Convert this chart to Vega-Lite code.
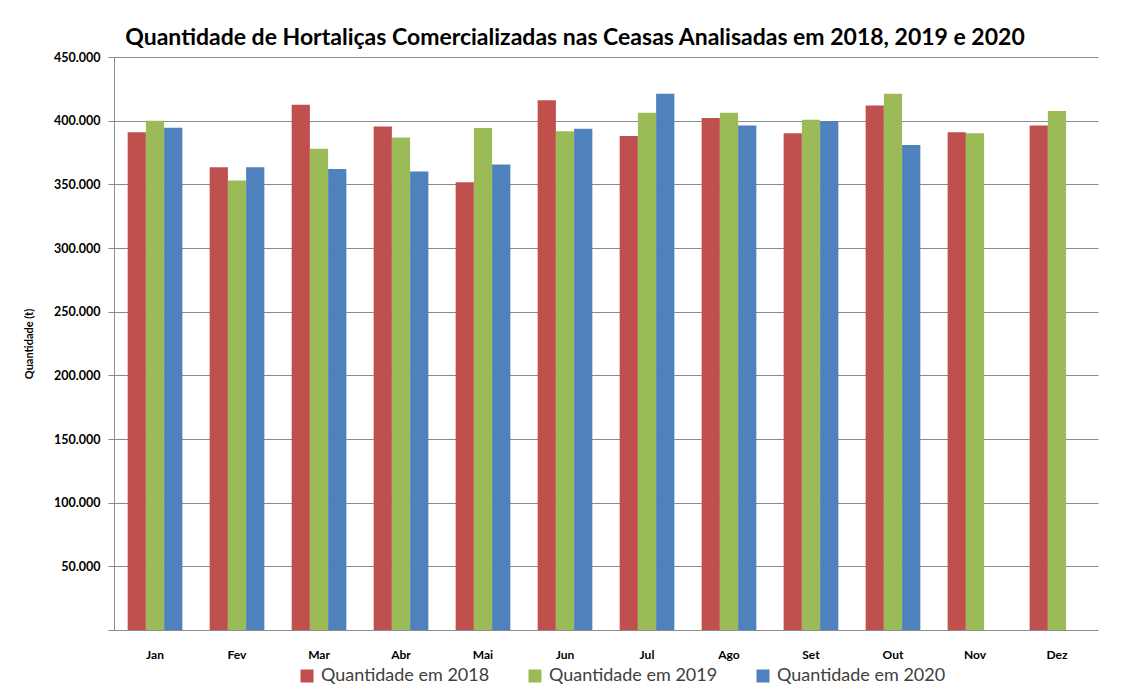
{
  "$schema": "https://vega.github.io/schema/vega-lite/v6.json",
  "width": 984,
  "height": 573,
  "autosize": {"type": "none"},
  "padding": {"left": 114, "top": 57, "right": 31, "bottom": 62},
  "background": "white",
  "title": {
    "text": "Quantidade de Hortaliças Comercializadas nas Ceasas Analisadas em 2018, 2019 e 2020",
    "font": "Lato",
    "fontSize": 23,
    "fontWeight": "bold",
    "color": "#000000",
    "anchor": "middle",
    "frame": "group",
    "dx": -31,
    "dy": 21,
    "baseline": "alphabetic",
    "offset": 4
  },
  "data": {
    "values": [
      {"mes": "Jan", "serie": "Quantidade em 2018", "valor": 391000},
      {"mes": "Jan", "serie": "Quantidade em 2019", "valor": 400000},
      {"mes": "Jan", "serie": "Quantidade em 2020", "valor": 394500},
      {"mes": "Fev", "serie": "Quantidade em 2018", "valor": 363500},
      {"mes": "Fev", "serie": "Quantidade em 2019", "valor": 353000},
      {"mes": "Fev", "serie": "Quantidade em 2020", "valor": 363500},
      {"mes": "Mar", "serie": "Quantidade em 2018", "valor": 412500},
      {"mes": "Mar", "serie": "Quantidade em 2019", "valor": 378000},
      {"mes": "Mar", "serie": "Quantidade em 2020", "valor": 362000},
      {"mes": "Abr", "serie": "Quantidade em 2018", "valor": 395500},
      {"mes": "Abr", "serie": "Quantidade em 2019", "valor": 386700},
      {"mes": "Abr", "serie": "Quantidade em 2020", "valor": 360000},
      {"mes": "Mai", "serie": "Quantidade em 2018", "valor": 351600},
      {"mes": "Mai", "serie": "Quantidade em 2019", "valor": 394300},
      {"mes": "Mai", "serie": "Quantidade em 2020", "valor": 365600},
      {"mes": "Jun", "serie": "Quantidade em 2018", "valor": 416100},
      {"mes": "Jun", "serie": "Quantidade em 2019", "valor": 391600},
      {"mes": "Jun", "serie": "Quantidade em 2020", "valor": 393700},
      {"mes": "Jul", "serie": "Quantidade em 2018", "valor": 388000},
      {"mes": "Jul", "serie": "Quantidade em 2019", "valor": 406200},
      {"mes": "Jul", "serie": "Quantidade em 2020", "valor": 421100},
      {"mes": "Ago", "serie": "Quantidade em 2018", "valor": 402000},
      {"mes": "Ago", "serie": "Quantidade em 2019", "valor": 406200},
      {"mes": "Ago", "serie": "Quantidade em 2020", "valor": 396300},
      {"mes": "Set", "serie": "Quantidade em 2018", "valor": 390100},
      {"mes": "Set", "serie": "Quantidade em 2019", "valor": 400800},
      {"mes": "Set", "serie": "Quantidade em 2020", "valor": 399700},
      {"mes": "Out", "serie": "Quantidade em 2018", "valor": 412000},
      {"mes": "Out", "serie": "Quantidade em 2019", "valor": 421100},
      {"mes": "Out", "serie": "Quantidade em 2020", "valor": 380900},
      {"mes": "Nov", "serie": "Quantidade em 2018", "valor": 390900},
      {"mes": "Nov", "serie": "Quantidade em 2019", "valor": 390100},
      {"mes": "Dez", "serie": "Quantidade em 2018", "valor": 396300},
      {"mes": "Dez", "serie": "Quantidade em 2019", "valor": 407500}
    ]
  },
  "mark": {"type": "bar"},
  "encoding": {
    "x": {
      "field": "mes",
      "type": "nominal",
      "sort": ["Jan", "Fev", "Mar", "Abr", "Mai", "Jun", "Jul", "Ago", "Set", "Out", "Nov", "Dez"],
      "scale": {"paddingInner": 0.333, "paddingOuter": 0.1667},
      "axis": {
        "title": null,
        "labelAngle": 0,
        "labelFont": "Lato",
        "labelFontSize": 12,
        "labelFontWeight": "bold",
        "labelColor": "#000000",
        "labelPadding": 19,
        "ticks": false,
        "domainColor": "#8c8c8c",
        "domainWidth": 1
      }
    },
    "xOffset": {
      "field": "serie",
      "type": "nominal",
      "scale": {"paddingInner": 0, "paddingOuter": 0}
    },
    "y": {
      "field": "valor",
      "type": "quantitative",
      "scale": {"domain": [0, 450000], "nice": false},
      "axis": {
        "title": "Quantidade (t)",
        "titleFont": "Lato",
        "titleFontSize": 11,
        "titleFontWeight": "bold",
        "titleColor": "#000000",
        "titlePadding": 19,
        "values": [0, 50000, 100000, 150000, 200000, 250000, 300000, 350000, 400000, 450000],
        "labelExpr": "datum.value == 0 ? '' : replace(format(datum.value, ','), ',', '.')",
        "labelFont": "Lato",
        "labelFontSize": 12.5,
        "labelFontWeight": "bold",
        "labelColor": "#000000",
        "labelPadding": 8,
        "tickSize": 6,
        "tickColor": "#8c8c8c",
        "domainColor": "#8c8c8c",
        "gridColor": "#8c8c8c",
        "gridWidth": 1,
        "grid": true
      }
    },
    "color": {
      "field": "serie",
      "type": "nominal",
      "scale": {
        "domain": ["Quantidade em 2018", "Quantidade em 2019", "Quantidade em 2020"],
        "range": ["#C0504D", "#9BBB59", "#4F81BD"]
      },
      "legend": {
        "title": null,
        "orient": "none",
        "direction": "horizontal",
        "legendX": 184,
        "legendY": 610,
        "symbolType": "square",
        "symbolSize": 170,
        "symbolStrokeWidth": 0,
        "labelFont": "Lato",
        "labelFontSize": 18,
        "labelColor": "#404040",
        "labelOffset": 5,
        "labelLimit": 400,
        "columnPadding": 36
      }
    }
  },
  "config": {"view": {"stroke": null}}
}
